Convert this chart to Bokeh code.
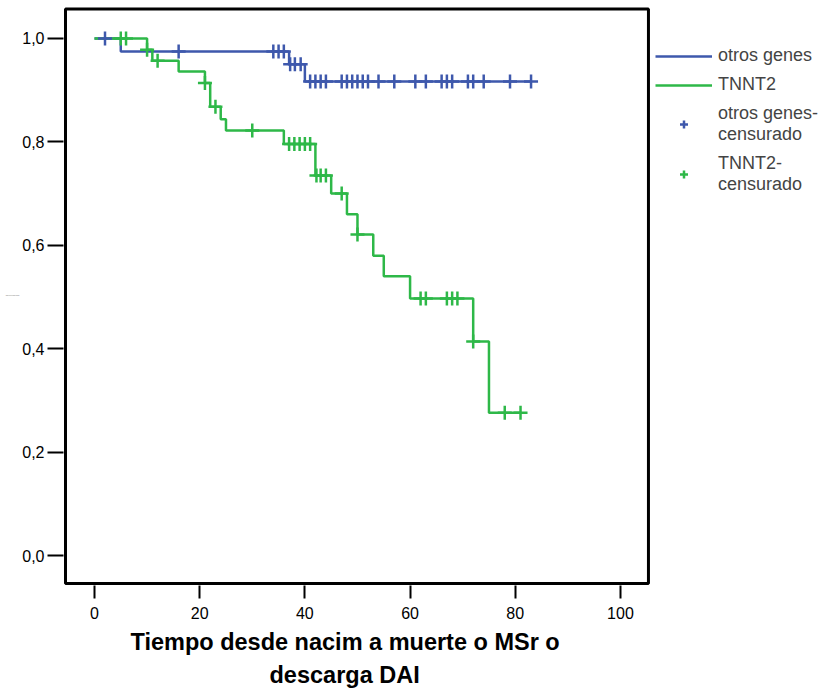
import numpy as np
from bokeh.plotting import figure
from bokeh.models import (Range1d, FixedTicker, CustomJSTickFormatter, Legend,
                          LegendItem, Title, BoxAnnotation)
from bokeh.embed import file_html
from bokeh.resources import INLINE

# ---- data ----
otros_t = [0, 5, 37, 40, 83]
otros_s = [1.0, 0.975, 0.950, 0.917, 0.917]
otros_cens = [2, 16, 34, 35, 36, 37.2, 38.1, 39.2, 41, 42, 43, 44, 47, 48, 49,
              50, 51, 52, 54, 57, 61, 63, 66, 67, 68, 71, 72, 74, 79, 83]

tnnt_t = [0, 10, 11, 16, 21, 22, 24, 25, 36, 42, 45, 48, 50, 53, 55, 60, 72, 75, 81]
tnnt_s = [1.0, 0.978, 0.957, 0.936, 0.914, 0.868, 0.844, 0.822, 0.796, 0.735,
          0.700, 0.660, 0.621, 0.580, 0.540, 0.497, 0.414, 0.276, 0.276]
tnnt_cens = [5, 6, 10, 12, 21, 23, 30, 37, 38, 39, 40, 41, 42.2, 43, 44, 47, 50,
             62, 63, 67, 68, 69, 72, 78, 81]

x_ticks = [0, 20, 40, 60, 80, 100]
y_ticks = [0.0, 0.2, 0.4, 0.6, 0.8, 1.0]

series_names = ["otros genes", "TNNT2"]
censor_names = ["otros genes-\ncensurado", "TNNT2-\ncensurado"]
x_title_1 = "Tiempo desde nacim a muerte o MSr o"
x_title_2 = "descarga DAI"
y_title = "Supervivencia acum"

BLUE = "#3E58AC"
GREEN = "#2EB848"
FONT = "Liberation Sans"


def surv_at(times, surv, c):
    times = np.asarray(times)
    surv = np.asarray(surv)
    idx = np.searchsorted(times, c, side="right") - 1
    return surv[idx]


# plotting area: the drawn box covers x -5.51..105.32, y -0.054..1.057;
# the frame is wider so that the legend can sit inside it on the right
p = figure(width=825, height=688, output_backend="svg", toolbar_location=None,
           x_range=Range1d(-5.89, 138.6), y_range=Range1d(-0.058, 1.0638),
           min_border_left=63, min_border_right=2, min_border_top=5,
           min_border_bottom=103)
p.background_fill_color = "white"
p.border_fill_color = "white"
p.outline_line_color = None
p.xgrid.visible = False
p.ygrid.visible = False

box = BoxAnnotation(left=-5.51, right=105.32, bottom=-0.0542, top=1.0571,
                    fill_alpha=0, line_color="black", line_alpha=1.0,
                    line_width=3)
p.add_layout(box)

l1 = p.step(otros_t, otros_s, mode="after", line_color=BLUE, line_width=2.5)
l2 = p.step(tnnt_t, tnnt_s, mode="after", line_color=GREEN, line_width=2.5)
s1 = p.scatter(otros_cens, surv_at(otros_t, otros_s, otros_cens), marker="cross",
               size=14, line_color=BLUE, line_width=2.5)
s2 = p.scatter(tnnt_cens, surv_at(tnnt_t, tnnt_s, tnnt_cens), marker="cross",
               size=14, line_color=GREEN, line_width=2.5)

fmt = CustomJSTickFormatter(code="return tick.toFixed(1).replace('.', ',');")

p.xaxis.ticker = FixedTicker(ticks=x_ticks)
p.yaxis.ticker = FixedTicker(ticks=y_ticks)
p.yaxis.formatter = fmt
for ax in (p.xaxis, p.yaxis):
    ax.axis_line_color = None
    ax.major_tick_line_color = "black"
    ax.major_tick_line_width = 2
    ax.minor_tick_line_color = None
    ax.major_tick_in = 0
    ax.major_label_text_font = FONT
    ax.major_label_text_font_size = "16px"
    ax.major_label_text_color = "black"
p.xaxis.major_tick_out = 13
p.xaxis.major_label_standoff = 8
p.yaxis.major_tick_out = 16
p.yaxis.major_label_standoff = 3
p.yaxis.axis_label = y_title
p.yaxis.axis_label_text_font = FONT
p.yaxis.axis_label_text_font_size = "1.5px"
p.yaxis.axis_label_text_font_style = "normal"
p.yaxis.axis_label_text_color = "#666666"
p.yaxis.axis_label_standoff = 0
p.yaxis.axis_label_orientation = "horizontal"

legend = Legend(items=[
    LegendItem(label=series_names[0], renderers=[l1]),
    LegendItem(label=series_names[1], renderers=[l2]),
    LegendItem(label=censor_names[0], renderers=[s1]),
    LegendItem(label=censor_names[1], renderers=[s2]),
], location=(592, 390), glyph_width=57, glyph_height=20, label_standoff=6,
    spacing=8, padding=0, margin=0, border_line_color=None,
    background_fill_alpha=0, label_text_font=FONT, label_text_font_size="18px",
    label_text_line_height=0.97, label_height=20)
p.add_layout(legend)

t1 = Title(text=x_title_1, align="left", offset=67, text_font=FONT,
           text_font_size="23.5px", text_font_style="bold", text_color="black",
           standoff=10)
t2 = Title(text=x_title_2, align="left", offset=206, text_font=FONT,
           text_font_size="23.5px", text_font_style="bold", text_color="black",
           standoff=0)
p.add_layout(t1, "below")
p.add_layout(t2, "below")

open("out.html", "w").write(file_html(p, INLINE))
